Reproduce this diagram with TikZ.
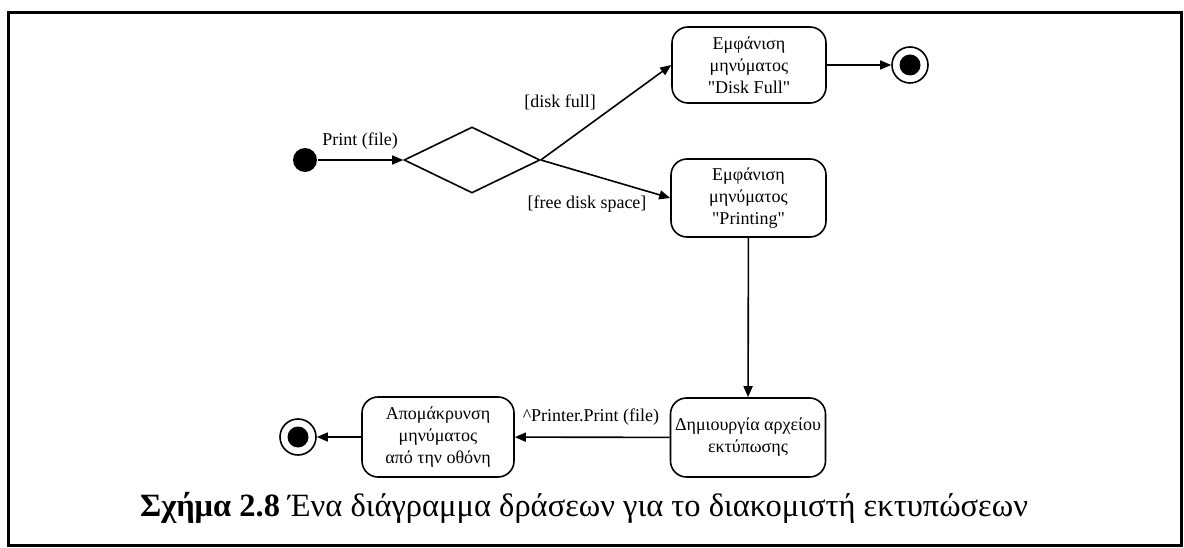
\documentclass[tikz,border=0pt]{standalone}
\usepackage{fontspec}
\setmainfont{Liberation Serif}[Ligatures=TeXOff]
\usetikzlibrary{arrows.meta,shapes.geometric}
\begin{document}
\begin{tikzpicture}[x=1pt,y=-1pt,
  line width=1.6pt,
  flow/.style={-{Triangle[length=11pt,width=9pt]}},
  activity/.style={draw, rounded corners=16pt, align=center, inner sep=0pt,
    font=\fontsize{18}{22}\selectfont},
  lbl/.style={font=\fontsize{18}{21}\selectfont, inner sep=0pt},
  startdot/.style={circle, fill=black, minimum size=24pt, inner sep=0pt},
  enddot/.style={circle, draw, line width=1.6pt, minimum size=36pt, inner sep=0pt}]
\useasboundingbox (0,0) rectangle (1184,548);
% outer frame
\draw[line width=3.5pt] (8.5,12.5) rectangle (1181.5,545.5);

% initial state and decision
\node[startdot] (init) at (305,160) {};
\node[diamond, draw, aspect=2.06, minimum width=136pt, minimum height=66pt,
      inner sep=0pt] (dec) at (472,160) {};

% activities
\node[activity, minimum width=154pt, minimum height=76pt] (full) at (749,65)
  {Εμφάνιση\\μηνύματος\\"Disk Full"};
\node[activity, minimum width=155pt, minimum height=78pt] (printing) at (748.5,198)
  {Εμφάνιση\\μηνύματος\\"Printing"};
\node[activity, minimum width=155pt, minimum height=79pt] (create) at (748,437.5)
  {Δημιουργία αρχείου\\εκτύπωσης};
\node[activity, minimum width=152pt, minimum height=80pt] (remove) at (438,437)
  {Απομάκρυνση\\μηνύματος\\από την οθόνη};

% final states
\node[enddot] (end1) at (910,65) {};
\fill (end1.center) circle (10.5pt);
\node[enddot] (end2) at (298,437) {};
\fill (end2.center) circle (10.5pt);

% transitions
\draw[flow] (init) -- (dec.west);
\draw[flow] (dec.east) -- (full.west);
\draw[flow] (dec.east) -- (printing.west);
\draw[flow] (full) -- (end1);
\draw[flow] (printing) -- (create);
\draw[flow] (create) -- (remove);
\draw[flow] (remove) -- (end2);

% transition labels
\node[lbl] (lprint) at (360,141) {Print (file)};
\node[lbl] (lfull) at (560,102) {[disk full]};
\node[lbl] (lfree) at (587,204) {[free disk space]};
\node[lbl] (lsend) at (591,417) {\textasciicircum Printer.Print (file)};

% caption
\node[font=\fontsize{32.5}{38}\selectfont, inner sep=0pt] (caption) at (584,508)
  {\textbf{Σχήμα 2.8} Ένα διάγραμμα δράσεων για το διακομιστή εκτυπώσεων};
\end{tikzpicture}
\end{document}
